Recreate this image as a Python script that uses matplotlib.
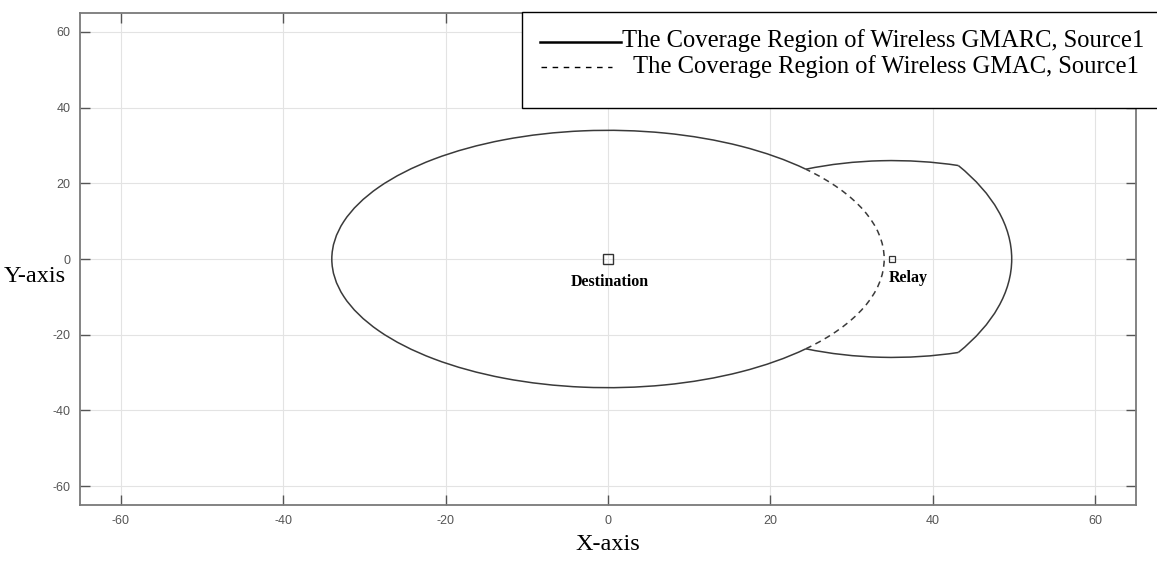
import numpy as np
import matplotlib
matplotlib.use('Agg')
import matplotlib.pyplot as plt
from matplotlib.patches import Arc, Rectangle
from matplotlib.lines import Line2D

plt.rcParams['axes.unicode_minus'] = False

# node positions (x, y)
dest_xy = [0.0, 0.0]
relay_xy = [35.0, 0.0]
node_names = ['Destination', 'Relay']

# coverage radii
r_dest = 34.0      # GMAC region, source1 around destination
r_relay = 26.0     # source1 -> relay reach
r_outer = 49.7     # relay-assisted reach around destination

legend_labels = ['The Coverage Region of Wireless GMARC, Source1',
                 'The Coverage Region of Wireless GMAC, Source1']
ticks = [-60, -40, -20, 0, 20, 40, 60]
lims = [-65, 65]

serif = ['Liberation Serif', 'DejaVu Serif']
sans = ['Liberation Sans', 'DejaVu Sans']
curve_c = '#3a3a3a'


def cross_point(c1, r1, c2, r2):
    # upper intersection of two circles with centres on the x axis
    d = c2[0] - c1[0]
    x = (r1 ** 2 - r2 ** 2 + d ** 2) / (2 * d)
    y = np.sqrt(r1 ** 2 - x ** 2)
    return c1[0] + x, y


xa, ya = cross_point(dest_xy, r_dest, relay_xy, r_relay)
xb, yb = cross_point(dest_xy, r_outer, relay_xy, r_relay)
a_dest = np.degrees(np.arctan2(ya, xa - dest_xy[0]))
a_outer = np.degrees(np.arctan2(yb, xb - dest_xy[0]))
a_r1 = np.degrees(np.arctan2(yb, xb - relay_xy[0]))
a_r2 = np.degrees(np.arctan2(ya, xa - relay_xy[0]))

fig = plt.figure(figsize=(11.57, 5.67), dpi=100)
ax = fig.add_axes([80 / 1157, 1 - 505 / 567, (1136 - 80) / 1157, (505 - 13) / 567])

kw = dict(color=curve_c, lw=1.1)
ax.add_patch(Arc(dest_xy, 2 * r_dest, 2 * r_dest, theta1=a_dest, theta2=360 - a_dest, **kw))
ax.add_patch(Arc(dest_xy, 2 * r_dest, 2 * r_dest, theta1=-a_dest, theta2=a_dest,
                 linestyle=(0, (4, 3)), **kw))
ax.add_patch(Arc(relay_xy, 2 * r_relay, 2 * r_relay, theta1=a_r1, theta2=a_r2, **kw))
ax.add_patch(Arc(relay_xy, 2 * r_relay, 2 * r_relay, theta1=-a_r2, theta2=-a_r1, **kw))
ax.add_patch(Arc(dest_xy, 2 * r_outer, 2 * r_outer, theta1=-a_outer, theta2=a_outer, **kw))

ax.plot(dest_xy[0], dest_xy[1], 's', ms=7, mfc='none', mec='#333333', mew=1.0)
ax.plot(relay_xy[0], relay_xy[1], 's', ms=4, mfc='none', mec='#333333', mew=0.9)
ax.text(dest_xy[0] + 0.2, dest_xy[1] - 4.0, node_names[0], ha='center', va='top',
        family=serif, fontweight='bold', fontsize=11.5)
ax.text(relay_xy[0] - 0.4, relay_xy[1] - 3.0, node_names[1], ha='left', va='top',
        family=serif, fontweight='bold', fontsize=11.5)

ax.set_xlim(lims)
ax.set_ylim(lims)
ax.set_xticks(ticks)
ax.set_yticks(ticks)
ax.grid(True, color='#e3e3e3', lw=0.8)
ax.set_axisbelow(True)
ax.tick_params(direction='in', length=7, width=1, top=True, right=True,
               colors='#555555', labelsize=9, pad=7)
for lab in ax.get_xticklabels() + ax.get_yticklabels():
    lab.set_family(sans)
for s in ax.spines.values():
    s.set_color('#7a7a7a')
    s.set_linewidth(1.3)

fig.text(608 / 1157, 1 - 544 / 567, 'X-axis', ha='center', va='center',
         family=serif, fontsize=17.5)
fig.text(4 / 1157, 1 - 277 / 567, 'Y-axis', ha='left', va='center',
         family=serif, fontsize=17.5)

# legend box drawn by hand (text indents differ in the original)
fig.add_artist(Rectangle((522 / 1157, 1 - 108 / 567), 1, (108 - 12) / 567,
                         transform=fig.transFigure, facecolor='white',
                         edgecolor='black', lw=1.0, zorder=5))
fig.add_artist(Line2D([540 / 1157, 621 / 1157], [1 - 42 / 567] * 2, color='black', lw=1.8,
                      transform=fig.transFigure, zorder=6))
fig.add_artist(Line2D([541 / 1157, 612 / 1157], [1 - 67 / 567] * 2, color='black', lw=1.0,
                      linestyle=(0, (4, 4)), transform=fig.transFigure, zorder=6))
fig.text(622 / 1157, 1 - 41 / 567, legend_labels[0], ha='left', va='center',
         family=serif, fontsize=17.7, zorder=7)
fig.text(633 / 1157, 1 - 67 / 567, legend_labels[1], ha='left', va='center',
         family=serif, fontsize=17.7, zorder=7)

fig.savefig('out.png', dpi=100)
